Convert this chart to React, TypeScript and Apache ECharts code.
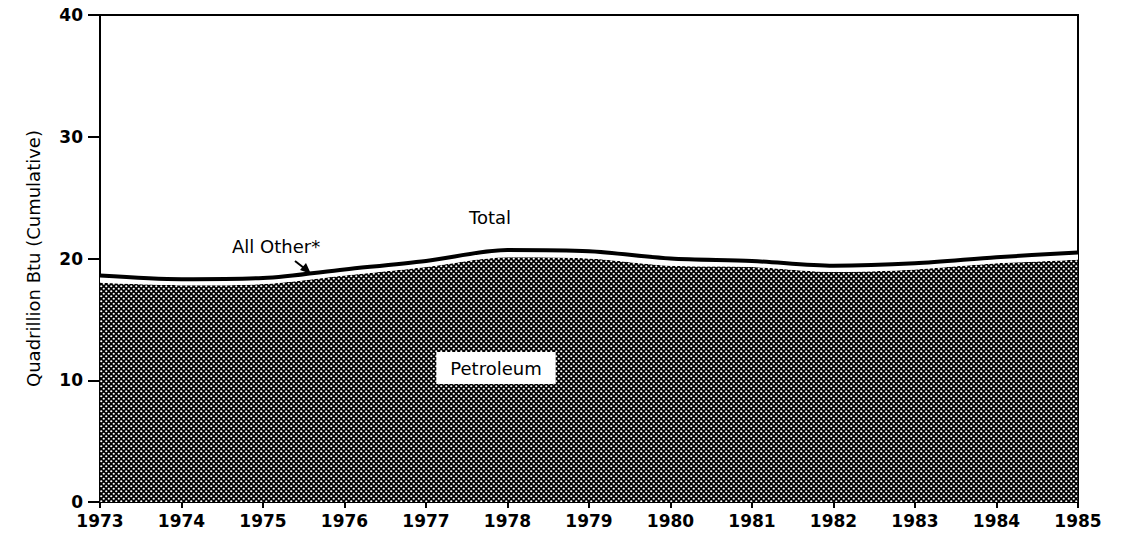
import React, { useEffect, useRef } from "react";
import * as echarts from "echarts";

const years = ["1973", "1974", "1975", "1976", "1977", "1978", "1979", "1980", "1981", "1982", "1983", "1984", "1985"];
const petroleum = [18.0, 17.8, 17.9, 18.6, 19.3, 20.1, 20.0, 19.4, 19.3, 18.9, 19.1, 19.6, 19.9];
const allOther = [0.6, 0.5, 0.5, 0.5, 0.5, 0.6, 0.6, 0.6, 0.5, 0.5, 0.5, 0.5, 0.6];
const yTicks = { min: 0, max: 40, interval: 10 };

const FONT = "DejaVu Sans";

function makePattern() {
  const c = document.createElement("canvas");
  c.width = 5;
  c.height = 5;
  const ctx = c.getContext("2d")!;
  ctx.fillStyle = "#000";
  ctx.fillRect(0, 0, 5, 5);
  ctx.fillStyle = "#fff";
  ctx.beginPath();
  ctx.arc(1.25, 1.25, 1.1, 0, Math.PI * 2);
  ctx.fill();
  ctx.beginPath();
  ctx.arc(3.75, 3.75, 1.1, 0, Math.PI * 2);
  ctx.fill();
  return c;
}

export default function App() {
  const ref = useRef<HTMLDivElement>(null);
  useEffect(() => {
    if (!ref.current) return;
    const chart = echarts.init(ref.current, null, { renderer: "svg" });
    const pat = makePattern();
    chart.setOption({
      animation: false,
      backgroundColor: "#fff",
      grid: {
        left: 100,
        right: 59,
        top: 15,
        bottom: 38,
        show: true,
        borderColor: "#000",
        borderWidth: 2,
        backgroundColor: "transparent",
      },
      xAxis: {
        type: "category",
        data: years,
        boundaryGap: false,
        axisLine: { lineStyle: { color: "#000", width: 2 } },
        axisTick: { length: 6, inside: false, lineStyle: { color: "#000", width: 2 } },
        axisLabel: { color: "#000", fontFamily: FONT, fontSize: 17, fontWeight: "bold", margin: 10 },
        splitLine: { show: false },
      },
      yAxis: {
        type: "value",
        min: yTicks.min,
        max: yTicks.max,
        interval: yTicks.interval,
        name: "Quadrillion Btu (Cumulative)",
        nameLocation: "middle",
        nameRotate: 90,
        nameGap: 58,
        nameTextStyle: { color: "#000", fontFamily: FONT, fontSize: 18, fontWeight: 500 },
        axisLine: { show: true, lineStyle: { color: "#000", width: 2 } },
        axisTick: { show: true, length: 12, lineStyle: { color: "#000", width: 2 } },
        axisLabel: { color: "#000", fontFamily: FONT, fontSize: 17, fontWeight: "bold", margin: 17 },
        splitLine: { show: false },
      },
      series: [
        {
          name: "Petroleum",
          type: "line",
          stack: "total",
          data: petroleum,
          smooth: 0.3,
          symbol: "none",
          lineStyle: { width: 0, color: "#000" },
          areaStyle: {
            color: { image: pat, repeat: "repeat", imageWidth: 5, imageHeight: 5 } as any,
            opacity: 1,
          },
          z: 2,
        },
        {
          name: "All Other",
          type: "line",
          stack: "total",
          data: allOther,
          smooth: 0.3,
          symbol: "none",
          lineStyle: { width: 4, color: "#000" },
          areaStyle: { color: "#fff", opacity: 1 },
          z: 3,
        },
      ],
      graphic: [
        {
          type: "text",
          x: 490,
          y: 217,
          style: { text: "Total", fill: "#000", font: `18px "${FONT}"`, align: "center", verticalAlign: "middle" },
          z: 10,
        },
        {
          type: "text",
          x: 232,
          y: 246,
          style: { text: "All Other*", fill: "#000", font: `18px "${FONT}"`, align: "left", verticalAlign: "middle" },
          z: 10,
        },
        {
          type: "line",
          shape: { x1: 295, y1: 261, x2: 304, y2: 268 },
          style: { stroke: "#000", lineWidth: 2 },
          z: 10,
        },
        {
          type: "polygon",
          shape: { points: [[300, 270], [306, 263], [311, 274]] },
          style: { fill: "#000" },
          z: 10,
        },
        {
          type: "text",
          x: 496,
          y: 368,
          style: {
            text: "Petroleum",
            fill: "#000",
            font: `18px "${FONT}"`,
            align: "center",
            verticalAlign: "middle",
            backgroundColor: "#fff",
            padding: [7, 14],
          },
          z: 10,
        },
      ],
    });
    return () => chart.dispose();
  }, []);
  return <div ref={ref} style={{ width: 1137, height: 540, margin: -8 }} />;
}
